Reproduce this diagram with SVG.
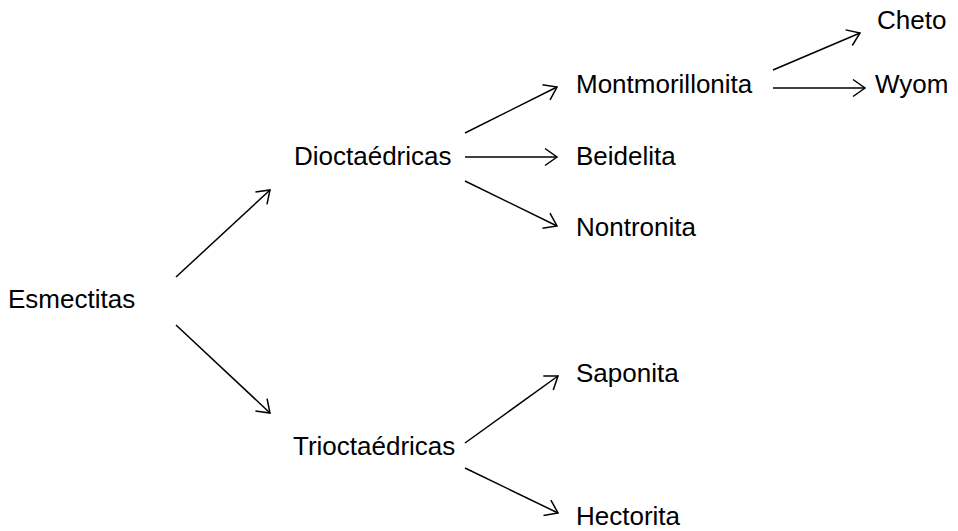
<svg xmlns="http://www.w3.org/2000/svg" width="958" height="531" viewBox="0 0 958 531">
<defs>
<marker id="arr" markerUnits="userSpaceOnUse" markerWidth="30" markerHeight="30" refX="0" refY="0" viewBox="-15 -15 30 30" orient="auto" overflow="visible">
<path d="M-12,-8.5 L0,0 L-12,8.5" fill="none" stroke="#000" stroke-width="1.5"/>
</marker>
</defs>
<style>
text{font-family:"Liberation Sans",Arial,sans-serif;font-size:26px;fill:#000}
.c{stroke:#000;stroke-width:1.5;fill:none;marker-end:url(#arr)}
</style>
<rect width="958" height="531" fill="#fff"/>
<g id="esmectitas"><text x="8" y="308">Esmectitas</text></g>
<g id="dioctaedricas"><text x="294" y="165">Dioctaédricas</text></g>
<g id="trioctaedricas"><text x="293" y="455">Trioctaédricas</text></g>
<g id="montmorillonita"><text x="576" y="93">Montmorillonita</text></g>
<g id="beidelita"><text x="576" y="165">Beidelita</text></g>
<g id="nontronita"><text x="576" y="236">Nontronita</text></g>
<g id="saponita"><text x="576" y="382">Saponita</text></g>
<g id="hectorita"><text x="576" y="525">Hectorita</text></g>
<g id="cheto"><text x="877" y="29">Cheto</text></g>
<g id="wyom"><text x="875" y="93">Wyom</text></g>
<g id="connectors">
<line class="c" x1="176" y1="277" x2="270" y2="190"/>
<line class="c" x1="176" y1="325" x2="270" y2="413"/>
<line class="c" x1="465" y1="133" x2="557" y2="87"/>
<line class="c" x1="465" y1="157" x2="557" y2="157"/>
<line class="c" x1="465" y1="181" x2="557" y2="226"/>
<line class="c" x1="465" y1="443" x2="558" y2="376"/>
<line class="c" x1="465" y1="468" x2="558" y2="513"/>
<line class="c" x1="773" y1="70" x2="860" y2="33"/>
<line class="c" x1="773" y1="88" x2="865" y2="88"/>
</g>
</svg>
